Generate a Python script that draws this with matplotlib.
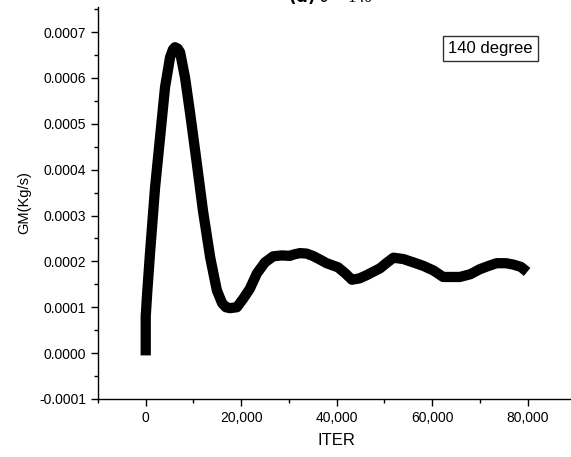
import matplotlib
matplotlib.use("Agg")
import matplotlib.pyplot as plt
from matplotlib.ticker import MultipleLocator, FuncFormatter

plt.rcParams['font.family'] = ['Liberation Sans', 'DejaVu Sans']

# GM curve (ITER, kg/s)
iters = [0, 0, 0, 300, 900, 1950, 3000, 4050, 5100, 5700, 6130, 6700,
         7200, 8250, 9300, 10700, 12000, 13500, 14900, 16000, 16800, 17650,
         19100, 20380, 21800, 23300, 25000, 26700, 28500, 30200, 31000,
         32300, 33700, 35000, 36500, 37900, 40300, 41800, 43200, 44800,
         46300, 49100, 50500, 51900, 54000, 56000, 58200, 60300, 62300,
         65800, 68000, 70000, 71800, 73500, 75500, 77000, 78600, 79900]
gm = [-0.000005, 0.00005, 0.00008, 0.00013, 0.000218, 0.00036, 0.00047,
      0.00058, 0.000645, 0.000662, 0.000667, 0.000664, 0.000656, 0.0006,
      0.000523, 0.000414, 0.00031, 0.000209, 0.000137, 0.000109, 0.0001,
      0.000098, 0.0001, 0.000118, 0.00014, 0.000174, 0.000198, 0.000211,
      0.000213, 0.000212, 0.000215, 0.000218, 0.000217, 0.000212, 0.000204,
      0.000196, 0.000187, 0.000174, 0.00016, 0.000163, 0.00017, 0.000185,
      0.000197, 0.000208, 0.000205, 0.000198, 0.00019, 0.00018, 0.000166,
      0.000166, 0.000172, 0.000183, 0.00019, 0.000196, 0.000196, 0.000193,
      0.000188, 0.000177]

label_text = "140 degree"

fig = plt.figure(figsize=(5.71, 4.57), dpi=100)
ax = fig.add_axes([0.1716, 0.127, 0.836, 0.858])

ax.plot(iters, gm, color='black', linewidth=7.4, solid_joinstyle='round',
        solid_capstyle='butt')

ax.set_xlim(-10000, 90000)
ax.set_ylim(-0.0001, 0.000755)

ax.xaxis.set_major_locator(MultipleLocator(20000))
ax.xaxis.set_minor_locator(MultipleLocator(10000))
ax.yaxis.set_major_locator(MultipleLocator(0.0001))
ax.yaxis.set_minor_locator(MultipleLocator(0.00005))
ax.xaxis.set_major_formatter(FuncFormatter(lambda v, p: f"{v:,.0f}"))
ax.yaxis.set_major_formatter(FuncFormatter(lambda v, p: f"{v:.4f}"))

ax.spines['top'].set_visible(False)
ax.spines['right'].set_visible(False)
for s in ('left', 'bottom'):
    ax.spines[s].set_linewidth(1.0)
ax.tick_params(which='major', direction='out', length=5, width=1, labelsize=10)
ax.tick_params(which='minor', direction='out', length=3, width=1)

ax.set_xlabel("ITER", fontsize=12, labelpad=6)
ax.set_ylabel("GM(Kg/s)", fontsize=10.5, labelpad=6)

ax.text(0.822, 0.893, label_text, transform=ax.transAxes, fontsize=12,
        ha='center', va='center',
        bbox=dict(boxstyle='square,pad=0.3', facecolor='white',
                  edgecolor='#333333', linewidth=1.0))

# title cut off at the top of the picture
fig.text(288 / 571, 1 - 2 / 457, r"$\mathbf{(d)}$ $\theta$ = 140°",
         family=['Liberation Serif', 'DejaVu Serif'], fontsize=12,
         ha='left', va='baseline')

fig.savefig("out.png", dpi=100)
